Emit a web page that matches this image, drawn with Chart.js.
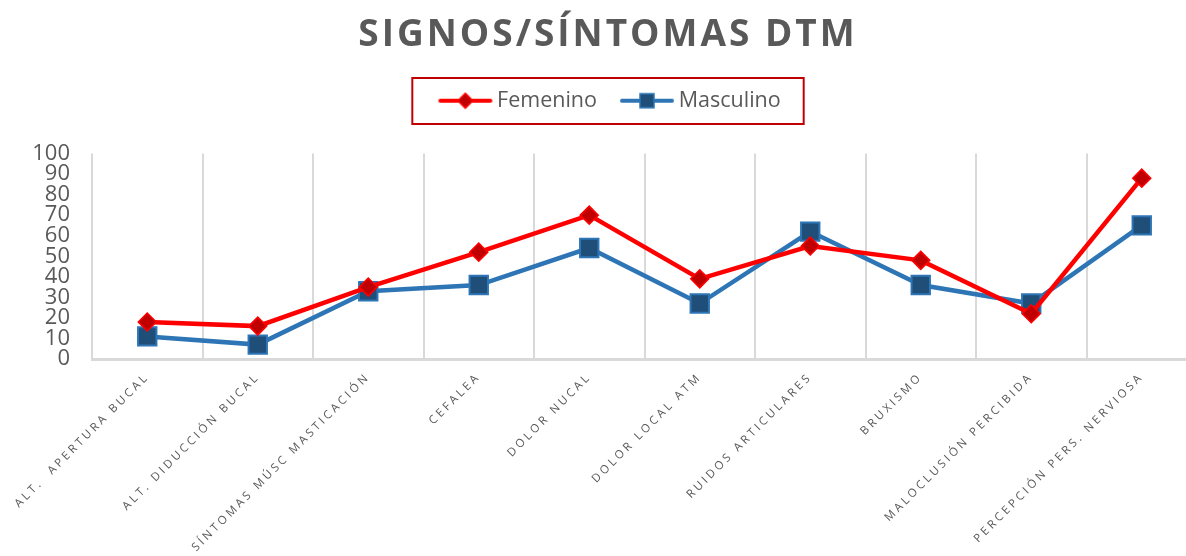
<!DOCTYPE html>
<html>
<head>
<meta charset="utf-8">
<script src="https://cdn.jsdelivr.net/npm/chart.js@4/dist/chart.umd.min.js"></script>
<style>
  html, body { margin: 0; padding: 0; background: #fff; overflow: hidden; }
  #wrap { position: relative; width: 1212px; height: 556px; }
</style>
</head>
<body>
<div id="wrap"><canvas id="signosChart" width="1212" height="556"></canvas></div>
<script>
const chartTitle = 'SIGNOS/SÍNTOMAS DTM';
const categories = [
    'ALT.  APERTURA BUCAL', 'ALT. DIDUCCIÓN BUCAL', 'SÍNTOMAS MÚSC MASTICACIÓN', 'CEFALEA',
    'DOLOR NUCAL', 'DOLOR LOCAL ATM', 'RUIDOS ARTICULARES', 'BRUXISMO',
    'MALOCLUSIÓN PERCIBIDA', 'PERCEPCIÓN PERS. NERVIOSA'
];
const seriesNames = ['Femenino', 'Masculino'];
const femenino = [18, 16, 35, 52, 70, 39, 55, 48, 22, 88];
const masculino = [11, 7, 33, 36, 54, 27, 62, 36, 27, 65];
const yTicks = [0, 10, 20, 30, 40, 50, 60, 70, 80, 90, 100];

const textGrey = '#595959';
const gridGrey = '#d9d9d9';

// small legend icons: line with marker in the middle
const makeIcon = (lineColor, fill, border, shape) => {
    const c = document.createElement('canvas');
    c.width = 56; c.height = 18;
    const g = c.getContext('2d');
    g.strokeStyle = lineColor; g.lineWidth = 4; g.lineCap = 'round';
    g.beginPath(); g.moveTo(3, 9); g.lineTo(53, 9); g.stroke();
    g.fillStyle = fill; g.strokeStyle = border; g.lineWidth = 1.5;
    g.beginPath();
    if (shape === 'diamond') {
        g.moveTo(28, 1.5); g.lineTo(35.5, 9); g.lineTo(28, 16.5); g.lineTo(20.5, 9); g.closePath();
    } else {
        g.rect(21, 2, 14, 14);
    }
    g.fill(); g.stroke();
    return c;
};
const legendIcons = [
    makeIcon('#ff0000', '#c00000', '#ff0000', 'diamond'),
    makeIcon('#2e75b6', '#1f4e79', '#2e75b6', 'square')
];

// title, rotated category labels (letter spaced) and the legend frame
const extrasPlugin = {
    id: 'extras',
    afterDraw(chart) {
        const ctx = chart.ctx;
        const xs = chart.scales.x;
        const area = chart.chartArea;
        ctx.save();
        ctx.fillStyle = textGrey;
        ctx.font = 'bold 37px "Open Sans"';
        ctx.letterSpacing = '3px';
        ctx.textAlign = 'center';
        ctx.textBaseline = 'middle';
        ctx.fillText(chartTitle, chart.width / 2 + 2, 35);

        const hb = chart.legend.legendHitBoxes;
        if (hb && hb.length) {
            const first = hb[0], last = hb[hb.length - 1];
            const left = first.left - 32, right = last.left + last.width + 23;
            ctx.strokeStyle = '#c00000';
            ctx.lineWidth = 2;
            ctx.strokeRect(left, first.top - 12, right - left, 46);
        }

        ctx.font = '11.5px "Open Sans"';
        ctx.letterSpacing = '3px';
        ctx.textAlign = 'right';
        ctx.textBaseline = 'middle';
        categories.forEach((lab, i) => {
            const x = xs.getPixelForTick(i);
            ctx.save();
            ctx.translate(x, area.bottom + 16);
            ctx.rotate(-Math.PI / 4);
            ctx.fillText(lab, 0, 0);
            ctx.restore();
        });
        ctx.restore();
    }
};

const ctx = document.getElementById('signosChart').getContext('2d');
const signosChart = new Chart(ctx, {
    type: 'line',
    data: {
        labels: categories,
        datasets: [{
            label: seriesNames[0],
            data: femenino,
            borderColor: '#ff0000',
            borderWidth: 4.5,
            pointStyle: 'rectRot',
            pointRadius: 9,
            pointBackgroundColor: '#c00000',
            pointBorderColor: '#ff0000',
            pointBorderWidth: 1.5,
            tension: 0
        }, {
            label: seriesNames[1],
            data: masculino,
            borderColor: '#2e75b6',
            borderWidth: 4.5,
            pointStyle: 'rect',
            pointRadius: 13,
            pointBackgroundColor: '#1f4e79',
            pointBorderColor: '#2e75b6',
            pointBorderWidth: 2,
            tension: 0
        }]
    },
    options: {
        responsive: false,
        animation: false,
        layout: { padding: { top: 61, left: 28, right: 15, bottom: 0 } },
        plugins: {
            legend: {
                position: 'top',
                labels: {
                    usePointStyle: true,
                    pointStyleWidth: 42,
                    padding: 29,
                    color: textGrey,
                    font: { family: 'Open Sans', size: 21.5 },
                    generateLabels: (chart) => chart.data.datasets.map((ds, i) => ({
                        text: ds.label,
                        pointStyle: legendIcons[i],
                        fillStyle: ds.borderColor,
                        strokeStyle: ds.borderColor,
                        lineWidth: 0,
                        hidden: false,
                        datasetIndex: i,
                        fontColor: textGrey
                    }))
                }
            },
            subtitle: {
                display: true,
                text: '',
                weight: 500,
                font: { size: 10 },
                padding: { top: 10, bottom: 10 }
            },
            tooltip: { enabled: false }
        },
        scales: {
            x: {
                type: 'category',
                offset: true,
                grid: { offset: true, color: gridGrey, lineWidth: 2, drawTicks: false },
                border: { color: gridGrey, width: 3 },
                ticks: { display: false },
                afterFit: (scale) => { scale.height = 197; }
            },
            y: {
                min: 0,
                max: 100,
                afterBuildTicks: (scale) => { scale.ticks = yTicks.map(v => ({ value: v })); },
                grid: { display: false, drawTicks: false },
                border: { display: false },
                ticks: {
                    color: textGrey,
                    padding: 22,
                    autoSkip: false,
                    font: { family: 'Open Sans', size: 22, lineHeight: 1 }
                },
                afterFit: (scale) => { scale.width = 64; }
            }
        }
    },
    plugins: [extrasPlugin]
});
</script>
</body>
</html>
